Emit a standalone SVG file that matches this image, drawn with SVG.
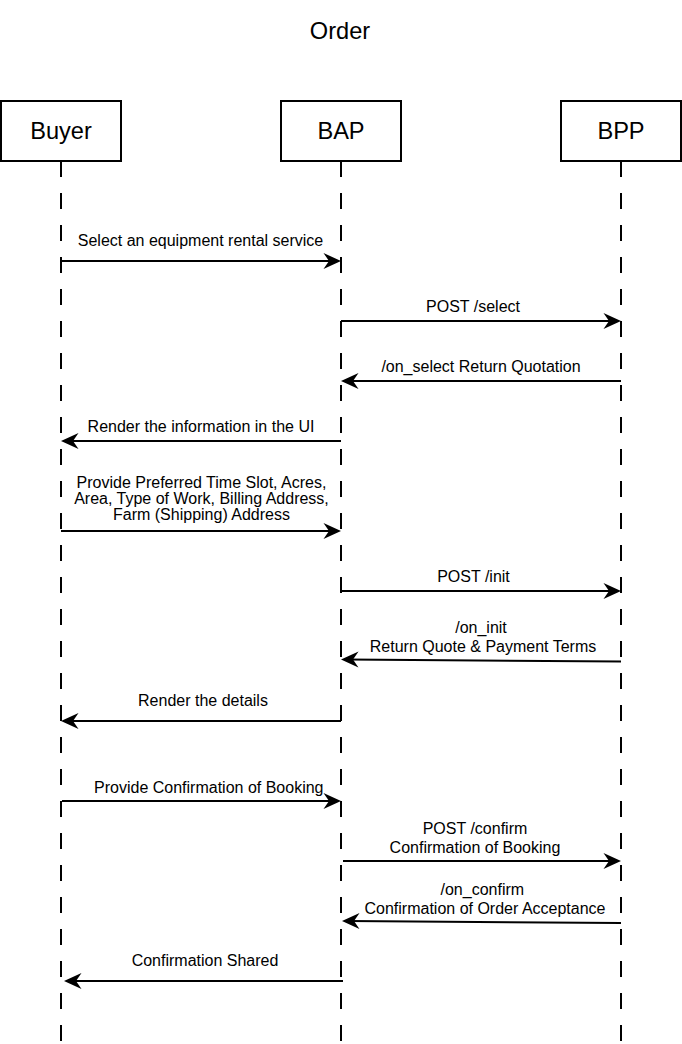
<svg xmlns="http://www.w3.org/2000/svg" width="682" height="1044" viewBox="0 0 682 1044">
<style>
.box{fill:#fff;stroke:#000;stroke-width:2}
.life{stroke:#000;stroke-width:2;stroke-dasharray:16 16;fill:none}
.big{font-family:"Liberation Sans",Arial,sans-serif;font-size:23.6px;fill:#000;text-anchor:middle}
.lbl{font-family:"Liberation Sans",Arial,sans-serif;font-size:16px;fill:#000;text-anchor:middle}
.msg{stroke:#000;stroke-width:2;fill:none;marker-end:url(#arr)}
</style>
<defs>
<marker id="arr" markerUnits="userSpaceOnUse" markerWidth="20" markerHeight="20" viewBox="0 0 20 20" refX="12" refY="10" orient="auto" overflow="visible">
<path d="M18,10 L0.5,2 L6,10 L0.5,18 Z" fill="#000"/>
</marker>
</defs>
<rect width="682" height="1044" fill="#fff"/>
<text class="big" x="340" y="38.5">Order</text>
<g id="buyer">
<line class="life" x1="61" y1="161" x2="61" y2="1044"/>
<rect class="box" x="1" y="101" width="120" height="60"/>
<text class="big" x="61" y="138.5">Buyer</text>
</g>
<g id="bap">
<line class="life" x1="341" y1="161" x2="341" y2="1044"/>
<rect class="box" x="281" y="101" width="120" height="60"/>
<text class="big" x="341" y="138.5">BAP</text>
</g>
<g id="bpp">
<line class="life" x1="621" y1="161" x2="621" y2="1044"/>
<rect class="box" x="561" y="101" width="120" height="60"/>
<text class="big" x="621" y="138.5">BPP</text>
</g>
<g id="connectors">
<path class="msg" d="M61,261 L335,261"/>
<text class="lbl" x="200.5" y="246">Select an equipment rental service</text>
<path class="msg" d="M341,321 L615,321"/>
<text class="lbl" x="473" y="312">POST /select</text>
<path class="msg" d="M621,381 L347,381"/>
<text class="lbl" x="481" y="372">/on_select Return Quotation</text>
<path class="msg" d="M341,441 L67,441"/>
<text class="lbl" x="201" y="432">Render the information in the UI</text>
<path class="msg" d="M61,531 L335,531"/>
<text class="lbl" x="201.5" y="488.3">Provide Preferred Time Slot, Acres,</text>
<text class="lbl" x="201.5" y="504.3">Area, Type of Work, Billing Address,</text>
<text class="lbl" x="201.5" y="520.3">Farm (Shipping) Address</text>
<path class="msg" d="M341,591 L615,591"/>
<text class="lbl" x="473.5" y="582">POST /init</text>
<path class="msg" d="M621,661.5 L347,659.5"/>
<text class="lbl" x="481" y="632.5">/on_init</text>
<text class="lbl" x="483" y="651.5">Return Quote &amp; Payment Terms</text>
<path class="msg" d="M341,721 L67,721"/>
<text class="lbl" x="203" y="706">Render the details</text>
<path class="msg" d="M62,801 L335,801"/>
<text class="lbl" x="208.8" y="792.5">Provide Confirmation of Booking</text>
<path class="msg" d="M343,861 L615,861"/>
<text class="lbl" x="475" y="834">POST /confirm</text>
<text class="lbl" x="475" y="853">Confirmation of Booking</text>
<path class="msg" d="M621,923 L348,921"/>
<text class="lbl" x="482.3" y="894.5">/on_confirm</text>
<text class="lbl" x="485" y="913.5">Confirmation of Order Acceptance</text>
<path class="msg" d="M343,981 L70,981"/>
<text class="lbl" x="205" y="966">Confirmation Shared</text>
</g>
</svg>
